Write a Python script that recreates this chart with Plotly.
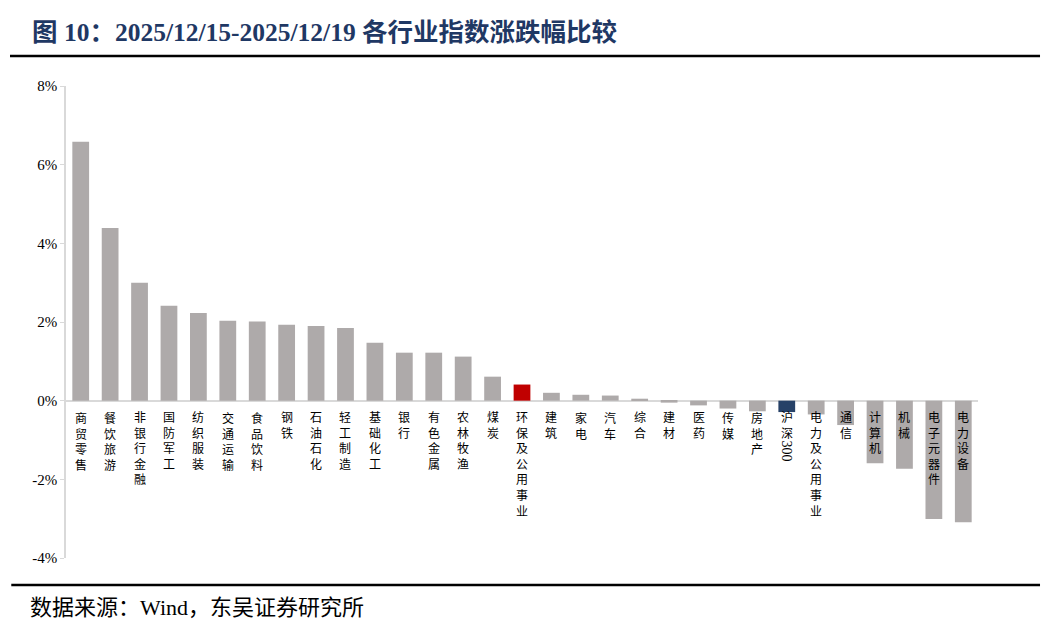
import plotly.graph_objects as go

categories = ["商贸零售", "餐饮旅游", "非银行金融", "国防军工", "纺织服装", "交通运输", "食品饮料",
              "钢铁", "石油石化", "轻工制造", "基础化工", "银行", "有色金属", "农林牧渔", "煤炭",
              "环保及公用事业", "建筑", "家电", "汽车", "综合", "建材", "医药", "传媒", "房地产",
              "沪深300", "电力及公用事业", "通信", "计算机", "机械", "电子元器件", "电力设备"]
values = [6.58, 4.39, 3.00, 2.41, 2.23, 2.03, 2.01,
          1.93, 1.90, 1.85, 1.47, 1.22, 1.22, 1.12, 0.61,
          0.41, 0.20, 0.15, 0.13, 0.05, -0.05, -0.12, -0.20, -0.27,
          -0.29, -0.35, -0.62, -1.59, -1.73, -3.01, -3.09]
tick_vals = [-4, -2, 0, 2, 4, 6, 8]
tick_text = ["-4%", "-2%", "0%", "2%", "4%", "6%", "8%"]
title_text = "图 10：2025/12/15-2025/12/19 各行业指数涨跌幅比较"
source_text = "数据来源：Wind，东吴证券研究所"

GRAY = "#AEAAAA"
RED = "#C00000"
NAVY = "#264167"

colors = []
for c in categories:
    if c == "环保及公用事业":
        colors.append(RED)
    elif c == "沪深300":
        colors.append(NAVY)
    else:
        colors.append(GRAY)

x_idx = list(range(len(categories)))
fig = go.Figure()
fig.add_trace(go.Bar(x=x_idx, y=values, marker=dict(color=colors, line=dict(width=0)),
                     width=0.57, hoverinfo="skip"))

SERIF = "Liberation Serif, Noto Sans CJK SC, serif"
annotations = []
for i, c in enumerate(categories):
    if c == "沪深300":
        han = c[:2]
        digits = c[2:]
        annotations.append(dict(x=i, y=0, xref="x", yref="y", text="<br>".join(han),
                                showarrow=False, yanchor="top", xanchor="center", yshift=-8,
                                font=dict(family=SERIF, size=12, color="#000000")))
        annotations.append(dict(x=i, y=0, xref="x", yref="y", text=digits, textangle=90,
                                showarrow=False, yanchor="top", xanchor="center", yshift=-38,
                                font=dict(family=SERIF, size=14, color="#000000")))
    else:
        annotations.append(dict(x=i, y=0, xref="x", yref="y", text="<br>".join(c),
                                showarrow=False, yanchor="top", xanchor="center", yshift=-8,
                                font=dict(family=SERIF, size=12, color="#000000")))

annotations.append(dict(x=-0.0395, y=1.114, xref="paper", yref="paper", text="<b>" + title_text + "</b>",
                        showarrow=False, xanchor="left", yanchor="middle",
                        font=dict(family=SERIF, size=25.5, color="#1F3864")))
annotations.append(dict(x=-0.0417, y=-0.104, xref="paper", yref="paper", text=source_text,
                        showarrow=False, xanchor="left", yanchor="middle",
                        font=dict(family=SERIF, size=22, color="#000000")))

shapes = [
    dict(type="line", xref="paper", yref="paper", x0=-0.0614, x1=1.068, y0=1.0636, y1=1.0636,
         line=dict(color="#000000", width=2.5)),
    dict(type="line", xref="paper", yref="paper", x0=-0.06, x1=1.068, y0=-0.0572, y1=-0.0572,
         line=dict(color="#000000", width=2.5)),
]

# page body has an 8px margin; size/margins compensate so the plot area lands at x 66-978, y 86-558
fig.update_layout(
    width=1056, height=630,
    margin=dict(l=58, r=86, t=78, b=80),
    paper_bgcolor="white", plot_bgcolor="white",
    showlegend=False,
    annotations=annotations,
    shapes=shapes,
    xaxis=dict(range=[-0.5, len(categories) - 0.5], showticklabels=False, showgrid=False,
               zeroline=False, showline=False, ticks=""),
    yaxis=dict(range=[-4, 8], tickvals=tick_vals, ticktext=tick_text, showgrid=False,
               zeroline=True, zerolinecolor="#D9D9D9", zerolinewidth=1.5,
               showline=True, linecolor="#D9D9D9", linewidth=1.5,
               ticks="outside", ticklen=4, tickcolor="#D9D9D9",
               tickfont=dict(family=SERIF, size=15, color="#000000")),
)

fig.write_html("out.html")
